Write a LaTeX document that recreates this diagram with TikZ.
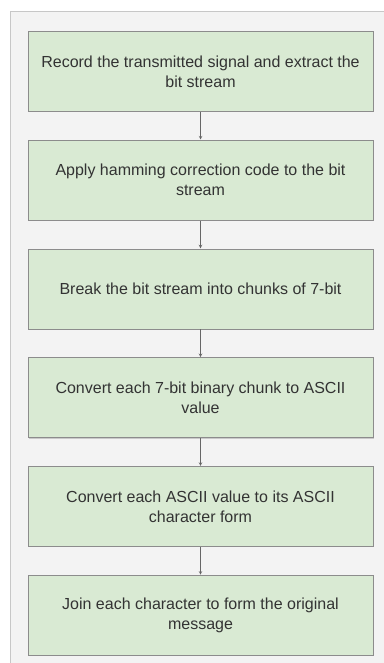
\documentclass[tikz,border=0pt]{standalone}
\usepackage{fontspec}
\setmainfont{Liberation Sans}
\usetikzlibrary{positioning,shadows}
\definecolor{stepgreen}{HTML}{D9EAD3}
\definecolor{framegray}{HTML}{F3F3F3}
\begin{document}
\begin{tikzpicture}[x=1pt,y=-1pt,>=stealth,
        stepbox/.style={draw=black!45,fill=stepgreen,line width=0.8pt,
            minimum width=345pt,minimum height=80pt,align=center,
            font=\fontsize{16}{20}\selectfont,text=black!80,
            drop shadow={shadow xshift=0.8pt,shadow yshift=-0.8pt,opacity=0.35}},
        link/.style={->,black!60,line width=0.6pt,shorten >=0.3pt},
        node distance=28pt]
        \useasboundingbox (0,0) rectangle (383,663);
        \fill[white] (0,0) rectangle (383,663);
        \draw[black!22,fill=framegray,line width=1pt] (10.5,670) -- (10.5,11.5) -- (390,11.5) -- (390,670) -- cycle;
        \node[stepbox,anchor=north] (record) at (200.5,31) {Record the transmitted signal and extract the\\bit stream};
        \node[stepbox,below=of record] (hamming) {Apply hamming correction code to the bit\\stream};
        \node[stepbox,below=of hamming] (chunks) {Break the bit stream into chunks of 7-bit};
        \node[stepbox,below=of chunks] (toascii) {Convert each 7-bit binary chunk to ASCII\\value};
        \node[stepbox,below=of toascii] (tochar) {Convert each ASCII value to its ASCII\\character form};
        \node[stepbox,below=of tochar] (join) {Join each character to form the original\\message};
        \draw[link] (record) -- (hamming);
        \draw[link] (hamming) -- (chunks);
        \draw[link] (chunks) -- (toascii);
        \draw[link] (toascii) -- (tochar);
        \draw[link] (tochar) -- (join);
\end{tikzpicture}
\end{document}
